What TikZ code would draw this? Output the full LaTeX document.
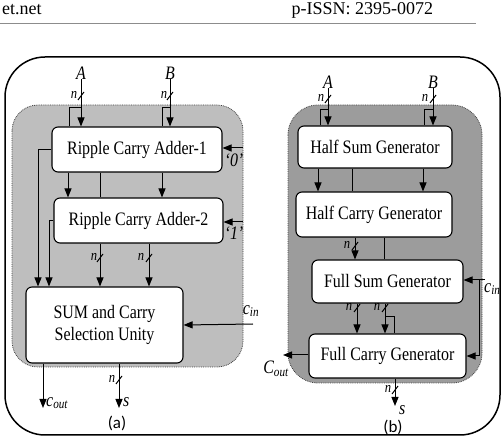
\documentclass[tikz,border=0pt]{standalone}
\usepackage{fontspec}
\setmainfont{Liberation Serif}
\newfontfamily\capfont{Carlito}
\newfontfamily\boxfont[FakeStretch=0.84,Ligatures=TeX]{Liberation Serif}
\usetikzlibrary{arrows.meta}

\definecolor{grayA}{RGB}{190,190,190}
\definecolor{grayB}{RGB}{156,156,156}

\tikzset{
  blk/.style={draw,fill=white,rounded corners=6pt,line width=1.1pt,
    font=\boxfont\fontsize{19}{22}\selectfont,align=center,inner sep=0pt},
  bus/.style={line width=1pt,-{Triangle[length=9pt,width=7pt]}},
  wire/.style={line width=1pt},
  sig/.style={font=\boxfont\fontsize{19}{20}\selectfont\itshape,inner sep=0pt},
  nl/.style={font=\boxfont\fontsize{15}{16}\selectfont\itshape,inner sep=0pt},
  region/.style={densely dotted,line width=0.8pt,draw=black!75},
}
% bus width mark
\newcommand{\nslash}[2]{\draw[wire] ({#1-3},{#2+4}) -- ({#1+3},{#2-4});}

\begin{document}
\begin{tikzpicture}[x=1pt,y=-1pt]
  \clip (0,0) rectangle (504,438);
  % page header
  \node[anchor=base west,font=\fontsize{18}{20}\selectfont,inner sep=0pt] (hdl) at (2,15) {et.net};
  \node[anchor=base west,font=\fontsize{18}{20}\selectfont] (hdr) at (288,15) {p-ISSN: 2395-0072};
  \draw[black!45,line width=1pt] (0,24) -- (476,24);

  \draw[line width=1.5pt,rounded corners=40pt] (5,57) rectangle (500,435);
  \filldraw[region,fill=grayA,rounded corners=26pt] (12,105) rectangle (243,367);
  \filldraw[region,fill=grayB,rounded corners=30pt] (288,105) rectangle (482,383);

  % (a)
  \node[blk,minimum width=170pt,minimum height=45pt] (rca1) at (137,149.5) {Ripple Carry Adder-1};
  \node[blk,minimum width=169pt,minimum height=45pt] (rca2) at (138.5,220.5) {Ripple Carry Adder-2};
  \node[blk,minimum width=157pt,minimum height=76pt] (sum) at (104.5,325) {SUM and Carry\\Selection Unity};

  \node[sig] (inA) at (81,73) {A};
  \node[sig] (inB) at (170,73) {B};
  \draw[bus] (inA.south) -- (inA.south |- rca1.north);
  \draw[bus] (inB.south) -- (inB.south |- rca1.north);
  \coordinate (ta) at (69,108);
  \coordinate (tb) at (162,108);
  \draw[wire] (inA |- ta) -- (ta) -- (ta |- rca1.north);
  \draw[wire] (inB |- tb) -- (tb) -- (tb |- rca1.north);
  \node[nl] (nA) at (74,95) {n};
  \node[nl] (nB) at (164,95) {n};
  \nslash{81}{96}
  \nslash{170}{96}

  \draw[bus] (rca1.south -| 68,0) -- (rca2.north -| 68,0);
  \draw[bus] (rca1.south -| 162,0) -- (rca2.north -| 162,0);
  \draw[wire] (rca1.south -| 100,0) -- (rca2.north -| 100,0);

  \coordinate (z0) at (243,148);
  \coordinate (z1) at (243,222);
  \draw[bus] (z0) -- (z0 -| rca1.east);
  \draw[bus] (z1) -- (z1 -| rca2.east);
  \node[sig] (l0) at (234,160) {‘0’};
  \node[sig] (l1) at (234,233) {‘1’};

  \draw[bus] (rca1.west) -| (sum.north -| 38,0);
  \draw[bus] (rca2.west) -| (sum.north -| 49,0);
  \draw[bus] (rca2.south -| 100,0) -- (sum.north -| 100,0);
  \draw[bus] (rca2.south -| 149,0) -- (sum.north -| 149,0);
  \node[nl] (n1) at (94,257) {n};
  \node[nl] (n2) at (141,257) {n};
  \nslash{100}{258}
  \nslash{149}{258}

  \coordinate (cina) at (253,324);
  \draw[bus] (cina) -- (sum.east);
  \node[sig] (lcina) at (251,311) {c\textsubscript{in}};

  \coordinate (couta) at (43,408);
  \coordinate (sa) at (119,408);
  \draw[bus] (sum.south -| couta) -- (couta);
  \draw[bus] (sum.south -| sa) -- (sa);
  \node[sig,anchor=west] (lcouta) at (46,403) {c\textsubscript{out}};
  \node[sig,anchor=west] (lsa) at (123,402) {s};
  \node[nl] (n3) at (112,379) {n};
  \nslash{119}{380}
  \node[font=\capfont\fontsize{17}{18}\selectfont] (capa) at (117,423) {(a)};

  % (b)
  \node[blk,minimum width=154pt,minimum height=42pt] (hsg) at (375,147) {Half Sum Generator};
  \node[blk,minimum width=156pt,minimum height=45pt] (hcg) at (374,214.5) {Half Carry Generator};
  \node[blk,minimum width=151pt,minimum height=43pt] (fsg) at (387.5,281.5) {Full Sum Generator};
  \node[blk,minimum width=157pt,minimum height=44pt] (fcg) at (387.5,356) {Full Carry Generator};

  \node[sig] (inA2) at (328,82) {A};
  \node[sig] (inB2) at (433,82) {B};
  \draw[bus] (inA2.south) -- (inA2.south |- hsg.north);
  \draw[bus] (inB2.south) -- (inB2.south |- hsg.north);
  \coordinate (tc) at (320,110);
  \coordinate (td) at (424,110);
  \draw[wire] (inA2 |- tc) -- (tc) -- (tc |- hsg.north);
  \draw[wire] (inB2 |- td) -- (td) -- (td |- hsg.north);
  \node[nl] (nA2) at (321,98) {n};
  \node[nl] (nB2) at (425,98) {n};
  \nslash{328}{99}
  \nslash{433}{99}

  \draw[bus] (hsg.south -| 318,0) -- (hcg.north -| 318,0);
  \draw[bus] (hsg.south -| 423,0) -- (hcg.north -| 423,0);
  \draw[wire] (hsg.south -| 352,0) -- (hcg.north -| 352,0);

  \draw[bus] (hcg.south -| 355,0) -- (fsg.north -| 355,0);
  \draw[wire] (hcg.south -| 384,0) -- (fsg.north -| 384,0);
  \node[nl] (n4) at (347,245) {n};
  \nslash{355}{246}

  \draw[bus] (fsg.south -| 357,0) -- (fcg.north -| 357,0);
  \draw[bus] (fsg.south -| 385,0) -- (fcg.north -| 385,0);
  \coordinate (te) at (394,317);
  \draw[wire] (te -| 385,0) -- (te) -- (te |- fcg.north);
  \node[nl] (n5) at (349,307) {n};
  \node[nl] (n6) at (377,307) {n};
  \nslash{357}{308}
  \nslash{385}{308}

  \coordinate (cinb) at (485,280);
  \coordinate (tf) at (479,280);
  \draw[bus] (cinb) -- (cinb -| fsg.east);
  \draw[bus] (tf) |- (fcg.east);
  \node[sig,anchor=west] (lcinb) at (484,289) {c\textsubscript{in}};

  \coordinate (coutb) at (283,355);
  \draw[bus] (fcg.west |- coutb) -- (coutb);
  \node[sig] (lcoutb) at (276,369) {C\textsubscript{out}};

  \coordinate (sb) at (395,406);
  \draw[bus] (fcg.south -| sb) -- (sb);
  \node[nl] (n7) at (388,389) {n};
  \nslash{395}{390}
  \node[sig,anchor=west] (lsb) at (399,410) {s};
  \node[font=\capfont\fontsize{17}{18}\selectfont] (capb) at (393,427) {(b)};
\end{tikzpicture}
\end{document}
